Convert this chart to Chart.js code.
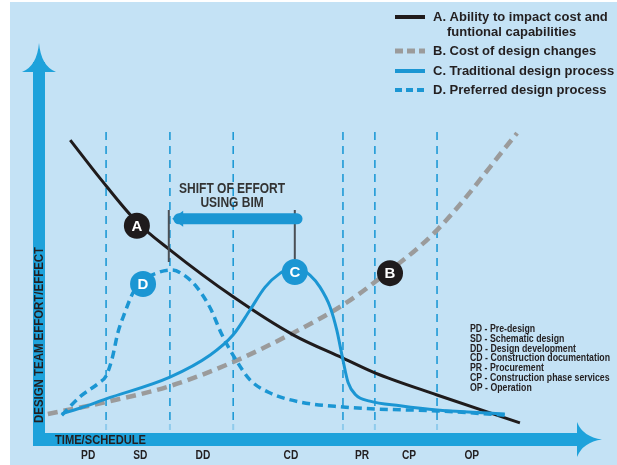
<!DOCTYPE html>
<html>
<head>
<meta charset="utf-8">
<script src="https://cdn.jsdelivr.net/npm/chart.js@4.4.0/dist/chart.umd.min.js"></script>
<style>
  html, body { margin: 0; padding: 0; background: #fff; }
  #wrap { width: 617px; height: 465px; }
</style>
</head>
<body>
<div id="wrap"><canvas id="chart" width="617" height="465"></canvas></div>
<script>
// --- DATA (x = time 0..100, y = design team effort/effect 0..100) ---
const phaseBounds = [11.8, 23.2, 34.5, 54.1, 59.8, 70.9];
const phaseCodes = ['PD', 'SD', 'DD', 'CD', 'PR', 'CP', 'OP'];
const phaseCenters = [8.6, 17.9, 29.1, 44.8, 57.5, 65.9, 77.1];
const phaseNames = [
    'PD - Pre-design',
    'SD - Schematic design',
    'DD - Design development',
    'CD - Construction documentation',
    'PR - Procurement',
    'CP - Construction phase services',
    'OP - Operation'
];

// A. Ability to impact cost and functional capabilities
const curveAX = [5.4, 10.7, 17.3, 23.2, 34.5, 45.2, 54.1, 59.8, 70.9, 85.7];
const curveAY = [75.5, 65.7, 54.4, 47.2, 35.1, 25.3, 19.3, 15.5, 9.8, 2.6];

// B. Cost of design changes
const curveBX = [1.4, 11.8, 23.2, 34.5, 45.2, 54.1, 59.8, 70.9, 85.2];
const curveBY = [4.9, 8.0, 12.1, 18.3, 25.8, 33.0, 38.9, 52.3, 77.3];

// C. Traditional design process
const curveCX = [3.9, 7.7, 11.8, 23.2, 30.4, 34.5, 37.5, 40.2, 42.9, 45.5, 48.2, 50.0, 51.8, 53.0, 54.1, 55.0, 56.4, 58.9, 64.3, 70.9, 83.0];
const curveCY = [4.9, 6.7, 8.8, 14.4, 20.1, 25.3, 31.7, 37.6, 41.2, 43.0, 40.7, 37.6, 32.5, 26.5, 18.8, 13.1, 9.8, 8.2, 7.0, 5.9, 4.9];

// D. Preferred design process
const curveDX = [3.9, 7.1, 10.7, 11.8, 12.9, 13.9, 15.2, 16.6, 18.8, 21.4, 23.6, 25.9, 28.0, 30.4, 32.5, 34.8, 37.5, 41.1, 46.4, 54.1, 59.8, 70.9, 83.0];
const curveDY = [4.6, 9.3, 13.1, 14.7, 19.3, 25.8, 31.2, 36.1, 39.7, 41.5, 42.0, 40.5, 37.6, 32.2, 25.3, 19.3, 13.7, 10.3, 8.0, 6.7, 6.2, 5.7, 4.6];

// letter badges on the curves
const markerLabels = ['A', 'B', 'C', 'D'];
const markerX = [17.3, 62.5, 45.5, 18.4];
const markerY = [53.4, 41.2, 41.5, 38.4];

// "shift of effort" arrow
const shiftFrom = 23.6, shiftTo = 45.9, shiftLevel = 55.2;
const shiftTickX = [23.0, 45.5];
const shiftTickTop = 57.5, shiftTickBottom = [44.1, 44.8];
const phaseLineTop = 78.6, phaseLineBottom = 3.35;

const legendItems = [
    ['A. Ability to impact cost and', 'funtional capabilities'],
    ['B. Cost of design changes'],
    ['C. Traditional design process'],
    ['D. Preferred design process']
];

// --- STYLE ---
const BG = '#c4e2f5';
const AXIS_BLUE = '#1ea2db';
const LINE_BLUE = '#1b96d3';
const BLACK = '#1f1b1c';
const GRAY = '#9b9b9b';
const TEXT = '#231f20';
const SANS = '"Liberation Sans", Arial, Helvetica, sans-serif';
const markerColors = [BLACK, BLACK, LINE_BLUE, LINE_BLUE];

const zip = (xs, ys) => xs.map((x, i) => ({ x, y: ys[i] }));

function phaseLineData(bottom, top) {
    const pts = [];
    phaseBounds.forEach(b => {
        pts.push({ x: b, y: bottom }, { x: b, y: top }, { x: b, y: null });
    });
    return pts;
}

// condensed look: squeeze the text horizontally through fillText's maxWidth
function drawFitted(ctx, text, x, y, scale) {
    const w = ctx.measureText(text).width;
    ctx.fillText(text, x, y, w * scale);
}

function fitScale(ctx, text, target) {
    return Math.min(1, target / ctx.measureText(text).width);
}

const decorPlugin = {
    id: 'decor',
    beforeDraw(chart) {
        const ctx = chart.ctx;
        ctx.save();
        ctx.fillStyle = BG;
        ctx.fillRect(10, 2, chart.width - 10, chart.height - 2);

        // axis bars with arrow heads
        ctx.fillStyle = AXIS_BLUE;
        ctx.fillRect(33, 62, 12, 384);
        ctx.fillRect(33, 433, 547, 13);
        ctx.beginPath();
        ctx.moveTo(39, 43);
        ctx.quadraticCurveTo(41, 66, 56, 72);
        ctx.lineTo(22, 72);
        ctx.quadraticCurveTo(37, 66, 39, 43);
        ctx.fill();
        ctx.beginPath();
        ctx.moveTo(602, 439.5);
        ctx.quadraticCurveTo(583, 437, 577, 422);
        ctx.lineTo(577, 457);
        ctx.quadraticCurveTo(583, 442, 602, 439.5);
        ctx.fill();

        // axis titles
        ctx.fillStyle = TEXT;
        ctx.textBaseline = 'middle';
        ctx.textAlign = 'left';
        ctx.font = 'bold 13px ' + SANS;
        drawFitted(ctx, 'TIME/SCHEDULE', 55, 440, fitScale(ctx, 'TIME/SCHEDULE', 91));
        ctx.save();
        ctx.translate(40, 335);
        ctx.rotate(-Math.PI / 2);
        ctx.textAlign = 'center';
        ctx.font = 'bold 12.5px ' + SANS;
        const yTitle = 'DESIGN TEAM EFFORT/EFFECT';
        drawFitted(ctx, yTitle, 0, 0, fitScale(ctx, yTitle, 176));
        ctx.restore();
        ctx.restore();
    },
    afterDatasetsDraw(chart) {
        const ctx = chart.ctx;
        const xs = chart.scales.x, ys = chart.scales.y;
        ctx.save();

        // arrow head of the shift arrow
        const tipX = xs.getPixelForValue(shiftFrom);
        const yy = ys.getPixelForValue(shiftLevel);
        ctx.fillStyle = LINE_BLUE;
        ctx.beginPath();
        ctx.moveTo(tipX, yy);
        ctx.lineTo(tipX + 11, yy - 8);
        ctx.lineTo(tipX + 11, yy + 8);
        ctx.closePath();
        ctx.fill();

        // letters in badges
        const meta = chart.getDatasetMeta(0);
        ctx.fillStyle = '#fff';
        ctx.font = 'bold 15px ' + SANS;
        ctx.textAlign = 'center';
        ctx.textBaseline = 'middle';
        meta.data.forEach((pt, i) => ctx.fillText(markerLabels[i], pt.x, pt.y + 1));

        // shift text
        ctx.fillStyle = '#333';
        ctx.font = 'bold 14px ' + SANS;
        const sx = xs.getPixelForValue(34.3);
        const s1 = fitScale(ctx, 'SHIFT OF EFFORT', 106);
        drawFitted(ctx, 'SHIFT OF EFFORT', sx, ys.getPixelForValue(62.9), s1);
        drawFitted(ctx, 'USING BIM', sx, ys.getPixelForValue(59.3), s1);

        // phase codes under the axis
        ctx.fillStyle = TEXT;
        ctx.font = 'bold 12px ' + SANS;
        phaseCodes.forEach((c, i) => {
            drawFitted(ctx, c, xs.getPixelForValue(phaseCenters[i]), 456, 0.85);
        });

        // phase glossary
        ctx.textAlign = 'left';
        ctx.font = 'bold 11px ' + SANS;
        const s2 = fitScale(ctx, phaseNames[3], 140);
        phaseNames.forEach((t, i) => drawFitted(ctx, t, 470, 329 + i * 9.8, s2));

        // legend
        const rows = [17, 51, 71, 90];
        const styles = [
            { c: BLACK, w: 4, d: [] },
            { c: GRAY, w: 5, d: [8, 4] },
            { c: LINE_BLUE, w: 4, d: [] },
            { c: LINE_BLUE, w: 4, d: [7, 4] }
        ];
        ctx.font = 'bold 13px ' + SANS;
        legendItems.forEach((lines, i) => {
            const st = styles[i];
            ctx.strokeStyle = st.c;
            ctx.lineWidth = st.w;
            ctx.setLineDash(st.d);
            ctx.beginPath();
            ctx.moveTo(395, rows[i]);
            ctx.lineTo(425, rows[i]);
            ctx.stroke();
            ctx.fillStyle = TEXT;
            ctx.fillText(lines[0], 433, rows[i] + 0.5);
            if (lines[1]) ctx.fillText(lines[1], 447, rows[i] + 15.5);
        });
        ctx.restore();
    }
};

const lineBase = { pointRadius: 0, cubicInterpolationMode: 'monotone', fill: false };

new Chart(document.getElementById('chart').getContext('2d'), {
    type: 'line',
    data: {
        datasets: [
            {
                label: 'markers', order: 0, showLine: false,
                data: zip(markerX, markerY),
                pointRadius: 13, pointHoverRadius: 13, pointBorderWidth: 0,
                pointBackgroundColor: markerColors
            },
            {
                ...lineBase, label: 'shift', order: 1,
                data: [{ x: shiftFrom + 1.2, y: shiftLevel }, { x: shiftTo, y: shiftLevel }],
                borderColor: LINE_BLUE, borderWidth: 11, borderCapStyle: 'round'
            },
            {
                ...lineBase, label: 'shift ticks', order: 1,
                data: [
                    { x: shiftTickX[0], y: shiftTickTop }, { x: shiftTickX[0], y: shiftTickBottom[0] }, { x: shiftTickX[0], y: null },
                    { x: shiftTickX[1], y: shiftTickTop }, { x: shiftTickX[1], y: shiftTickBottom[1] }
                ],
                borderColor: '#4a4f55', borderWidth: 2, spanGaps: false, cubicInterpolationMode: 'default', tension: 0
            },
            {
                ...lineBase, label: 'C. Traditional design process', order: 2,
                data: zip(curveCX, curveCY), borderColor: LINE_BLUE, borderWidth: 3
            },
            {
                ...lineBase, label: 'D. Preferred design process', order: 3,
                data: zip(curveDX, curveDY), borderColor: LINE_BLUE, borderWidth: 3.5, borderDash: [8, 5]
            },
            {
                ...lineBase, label: 'A. Ability to impact cost', order: 4,
                data: zip(curveAX, curveAY), borderColor: BLACK, borderWidth: 3
            },
            {
                ...lineBase, label: 'B. Cost of design changes', order: 5,
                data: zip(curveBX, curveBY), borderColor: GRAY, borderWidth: 4.5, borderDash: [10, 6]
            },
            {
                ...lineBase, label: 'phases', order: 6,
                data: phaseLineData(phaseLineBottom, phaseLineTop),
                borderColor: '#1f9ad6', borderWidth: 1.6, borderDash: [8, 6],
                spanGaps: false, cubicInterpolationMode: 'default', tension: 0
            },
            {
                ...lineBase, label: 'phase stubs', order: 6,
                data: phaseLineData(0.8, 2.3),
                borderColor: '#8fcbec', borderWidth: 2,
                spanGaps: false, cubicInterpolationMode: 'default', tension: 0
            }
        ]
    },
    options: {
        responsive: false,
        animation: false,
        devicePixelRatio: 1,
        layout: { padding: { left: 40, right: 17, top: 45, bottom: 32 } },
        scales: {
            x: { type: 'linear', min: 0, max: 100, display: false },
            y: { type: 'linear', min: 0, max: 100, display: false }
        },
        plugins: { legend: { display: false }, tooltip: { enabled: false } },
        events: []
    },
    plugins: [decorPlugin]
});
</script>
</body>
</html>
